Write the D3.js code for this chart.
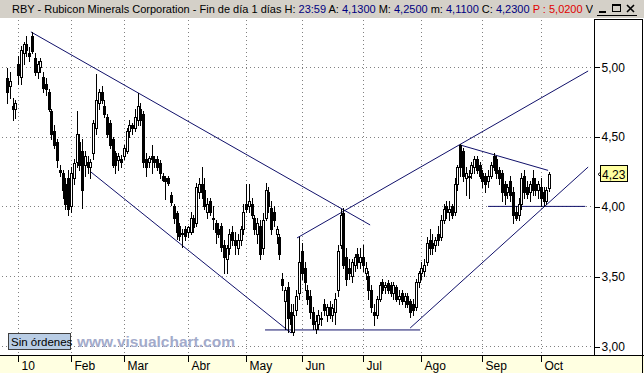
<!DOCTYPE html>
<html><head><meta charset="utf-8">
<script src="https://cdn.jsdelivr.net/npm/d3@7"></script>
<style>body{margin:0;background:#fff;overflow:hidden}svg{display:block}text{font-family:"Liberation Sans",Arial,sans-serif}</style>
</head><body><svg id="c" width="644" height="373"></svg>
<script>
// ---- data (Dec 28 2009 .. Oct 6 2010, daily) ----
const openV = [
4.92,4.86,4.72,4.70,5.02,4.93,5.10,5.16,5.10,5.22,
5.06,4.96,5.00,4.93,4.88,4.82,4.68,4.54,4.46,4.26,
4.24,4.16,4.20,4.00,4.20,4.32,4.46,4.40,4.30,4.32,
4.28,4.38,4.56,4.74,4.82,4.72,4.64,4.60,4.48,4.38,
4.33,4.34,4.36,4.40,4.54,4.58,4.56,4.62,4.70,4.66,
4.34,4.32,4.36,4.34,4.34,4.31,4.22,4.20,4.20,4.08,
4.00,3.95,3.86,3.81,3.84,3.82,3.82,3.92,3.88,4.10,
4.16,4.12,3.96,4.04,3.92,3.88,3.84,3.86,3.72,3.62,
3.70,3.82,3.76,3.70,3.76,3.84,4.02,4.00,4.02,3.92,
3.80,3.86,3.70,3.92,4.10,3.99,3.96,3.80,3.78,3.48,
3.32,3.42,3.24,3.10,3.26,3.38,3.68,3.56,3.40,3.36,
3.24,3.12,3.16,3.20,3.30,3.22,3.28,3.22,3.24,3.40,
3.72,3.95,3.64,3.56,3.50,3.58,3.66,3.60,3.64,3.52,
3.50,3.40,3.24,3.22,3.34,3.46,3.42,3.45,3.44,3.38,
3.42,3.34,3.38,3.32,3.36,3.32,3.30,3.28,3.46,3.52,
3.54,3.60,3.76,3.74,3.72,3.80,3.78,3.90,4.00,3.96,
4.00,3.96,4.16,4.44,4.40,4.20,4.22,4.24,4.28,4.34,
4.30,4.24,4.22,4.18,4.22,4.36,4.34,4.26,4.24,4.16,
4.10,4.18,4.10,3.96,3.94,4.02,4.22,4.14,4.10,4.20,
4.16,4.12,4.14,4.10,4.04,4.13];
const highV = [
4.99,4.96,4.78,4.76,5.08,5.15,5.18,5.22,5.14,5.25,
5.10,5.04,5.06,4.96,4.92,4.84,4.70,4.58,4.48,4.30,
4.26,4.20,4.26,4.28,4.34,4.68,4.52,4.48,4.40,4.36,
4.34,4.62,4.95,4.84,4.86,4.76,4.66,4.62,4.50,4.40,
4.38,4.37,4.44,4.56,4.62,4.60,4.70,4.81,4.74,4.68,
4.38,4.36,4.44,4.36,4.36,4.33,4.24,4.22,4.22,4.10,
4.02,3.97,3.88,3.84,3.86,3.86,3.96,3.94,4.17,4.20,
4.28,4.20,4.06,4.06,4.00,3.90,3.88,3.88,3.76,3.72,
3.84,3.86,3.82,3.80,3.86,4.02,4.16,4.16,4.06,3.94,
3.92,3.90,3.95,4.17,4.14,4.04,4.00,3.86,3.80,3.52,
3.42,3.46,3.30,3.30,3.40,3.78,3.74,3.60,3.44,3.40,
3.28,3.22,3.26,3.24,3.34,3.30,3.32,3.30,3.38,3.72,
3.98,3.99,3.70,3.62,3.62,3.66,3.70,3.70,3.72,3.60,
3.54,3.44,3.30,3.36,3.46,3.48,3.46,3.47,3.46,3.46,
3.44,3.40,3.40,3.38,3.38,3.34,3.34,3.48,3.54,3.60,
3.62,3.78,3.84,3.80,3.78,3.86,3.94,4.02,4.04,4.04,
4.02,4.20,4.30,4.45,4.42,4.28,4.26,4.32,4.36,4.36,
4.32,4.26,4.24,4.26,4.32,4.38,4.36,4.28,4.26,4.18,
4.16,4.22,4.14,4.00,4.06,4.24,4.26,4.18,4.18,4.26,
4.20,4.18,4.20,4.14,4.14,4.25];
const lowV = [
4.74,4.78,4.62,4.63,4.88,4.88,5.02,5.08,5.04,5.10,
4.94,4.92,4.96,4.82,4.80,4.68,4.48,4.42,4.28,4.22,
4.06,3.98,3.94,3.96,4.16,4.28,4.26,3.99,4.22,4.24,
4.20,4.34,4.52,4.70,4.74,4.64,4.50,4.42,4.28,4.24,
4.26,4.28,4.34,4.38,4.50,4.52,4.54,4.58,4.58,4.28,
4.22,4.28,4.24,4.28,4.26,4.20,4.18,4.05,4.15,4.01,
3.88,3.77,3.76,3.71,3.76,3.78,3.80,3.82,3.86,4.06,
4.06,3.98,3.92,3.94,3.84,3.74,3.78,3.68,3.52,3.52,
3.66,3.72,3.66,3.66,3.72,3.80,3.96,3.96,3.92,3.80,
3.74,3.62,3.66,3.90,3.96,3.80,3.86,3.74,3.62,3.40,
3.12,3.10,3.10,3.08,3.22,3.34,3.48,3.40,3.30,3.20,
3.12,3.09,3.12,3.15,3.22,3.18,3.20,3.18,3.16,3.36,
3.70,3.56,3.44,3.48,3.46,3.54,3.56,3.56,3.54,3.48,
3.34,3.24,3.15,3.20,3.32,3.38,3.38,3.38,3.36,3.34,
3.32,3.30,3.30,3.28,3.28,3.21,3.22,3.26,3.42,3.48,
3.50,3.58,3.66,3.66,3.68,3.72,3.76,3.88,3.92,3.90,
3.92,3.94,4.12,4.22,4.18,4.08,4.06,4.20,4.24,4.24,
4.20,4.14,4.10,4.14,4.20,4.26,4.20,4.16,4.04,4.02,
4.06,4.04,3.88,3.90,3.90,3.98,4.06,4.06,4.04,4.08,
4.08,4.06,4.00,4.00,4.02,4.11];
const closeV = [
4.82,4.90,4.70,4.74,4.94,5.12,5.16,5.12,5.08,5.11,
4.96,5.02,5.04,4.85,4.84,4.70,4.52,4.44,4.33,4.25,
4.12,4.02,3.98,4.24,4.31,4.52,4.30,4.12,4.36,4.28,
4.32,4.60,4.76,4.82,4.76,4.66,4.52,4.44,4.30,4.30,
4.36,4.32,4.42,4.54,4.58,4.56,4.64,4.72,4.62,4.32,
4.28,4.35,4.34,4.32,4.28,4.24,4.19,4.18,4.17,4.03,
3.92,3.82,3.79,3.80,3.79,3.85,3.92,3.85,4.14,4.16,
4.10,4.00,4.02,3.96,3.91,3.82,3.80,3.71,3.64,3.70,
3.80,3.76,3.72,3.76,3.84,3.96,3.98,4.04,3.94,3.84,
3.88,3.66,3.90,4.12,4.00,3.84,3.90,3.84,3.66,3.44,
3.40,3.20,3.16,3.22,3.36,3.60,3.52,3.46,3.34,3.24,
3.16,3.18,3.22,3.19,3.26,3.28,3.22,3.27,3.34,3.68,
3.94,3.58,3.48,3.52,3.60,3.64,3.60,3.64,3.58,3.56,
3.40,3.28,3.22,3.34,3.44,3.40,3.44,3.40,3.38,3.44,
3.34,3.36,3.32,3.36,3.30,3.24,3.26,3.46,3.52,3.56,
3.58,3.74,3.70,3.70,3.76,3.76,3.90,3.98,3.96,3.98,
3.94,4.16,4.28,4.28,4.22,4.24,4.21,4.30,4.34,4.26,
4.22,4.18,4.16,4.22,4.30,4.28,4.24,4.20,4.10,4.08,
4.14,4.08,3.94,3.92,4.02,4.20,4.10,4.09,4.16,4.12,
4.12,4.16,4.06,4.04,4.12,4.23];
const monthLabels = ["10","Feb","Mar","Abr","May","Jun","Jul","Ago","Sep","Oct"];
const monthStartIdx = [4,23,42,65,86,106,128,149,171,192];
const priceTicks = [3.0,3.5,4.0,4.5,5.0];
const lastPrice = 4.23;
// trend lines drawn by the user: [startDayIdx, startPrice, endDayIdx, endPrice]
const trendLines = [
  [8.6,5.25,130.6,3.867],
  [30.2,4.246,102.2,3.093],
  [92.8,3.115,148.6,3.115],
  [104.3,3.774,209,4.970],
  [145,3.129,209,4.282],
  [163,4.44,194.6,4.258],
  [173,4.0,208,4.0]
];
const titleParts = [
  ["RBY - Rubicon Minerals Corporation - Fin de día 1 días H: ","#000"],["23:59","#000080"],
  [" A: ","#000"],["4,1300","#000080"],[" M: ","#000"],["4,2500","#000080"],
  [" m: ","#000"],["4,1100","#000080"],[" C: ","#000"],["4,2300","#000080"],
  [" P : 5,0200","#e00000"],[" V: '","#000"]
];

// ---- layout ----
const W=644,H=373, plotR=594, plotT=18, plotB=355, frameR=642;
const svg=d3.select("#c");
const x=d3.scaleLinear().domain([0,195]).range([7,549.2]);
const y=d3.scaleLinear().domain([3,5]).range([346,66.8]);
const fmt=v=>d3.format(".2f")(v).replace(".",",");

svg.append("rect").attr("width",W).attr("height",H).attr("fill","#fff");
svg.append("rect").attr("x",0).attr("y",plotB).attr("width",W).attr("height",H-plotB).attr("fill","#ffffe1");

// grid
const grid=svg.append("g").attr("stroke","#808080").attr("stroke-dasharray","1,3").attr("shape-rendering","crispEdges");
priceTicks.forEach(p=>{
  const yy=Math.round(y(p))+0.5;
  grid.append("line").attr("x1",2).attr("x2",plotR).attr("y1",yy).attr("y2",yy);
});
monthStartIdx.forEach(i=>{
  const xx=Math.round(x(i))+0.5;
  grid.append("line").attr("x1",xx).attr("x2",xx).attr("y1",plotT+2).attr("y2",plotB);
});

svg.append("clipPath").attr("id","pc").append("rect").attr("x",0).attr("y",plotT).attr("width",plotR).attr("height",plotB-plotT);
const plot=svg.append("g").attr("clip-path","url(#pc)");

// trend lines
plot.append("g").selectAll("line").data(trendLines).join("line")
  .attr("x1",d=>x(d[0])).attr("y1",d=>y(d[1])).attr("x2",d=>x(d[2])).attr("y2",d=>y(d[3]))
  .attr("stroke","#10106a").attr("stroke-width",1);

// candles
const idx=d3.range(openV.length);
const cg=plot.append("g").attr("shape-rendering","crispEdges");
idx.forEach(i=>{
  const cx=Math.round(x(i));
  const o=openV[i],c=closeV[i],h=highV[i],l=lowV[i];
  cg.append("line").attr("x1",cx+0.5).attr("x2",cx+0.5)
    .attr("y1",Math.round(y(h))).attr("y2",Math.round(y(l))+1).attr("stroke","#000");
  const top=Math.round(y(Math.max(o,c))), bot=Math.round(y(Math.min(o,c)));
  if(c<o){
    cg.append("rect").attr("x",cx-1).attr("y",top).attr("width",3).attr("height",Math.max(1,bot-top+1)).attr("fill","#000");
  } else {
    cg.append("rect").attr("x",cx-0.5).attr("y",top+0.5).attr("width",2).attr("height",Math.max(1,bot-top))
      .attr("fill","#fff").attr("stroke","#000");
  }
});

// frame lines
const fr=svg.append("g").attr("stroke","#000").attr("shape-rendering","crispEdges");
fr.append("line").attr("x1",0).attr("x2",W).attr("y1",plotB+0.5).attr("y2",plotB+0.5);
fr.append("line").attr("x1",plotR+0.5).attr("x2",plotR+0.5).attr("y1",plotT+1).attr("y2",plotB);
fr.append("line").attr("x1",frameR+0.5).attr("x2",frameR+0.5).attr("y1",plotT+1).attr("y2",H);
fr.append("line").attr("x1",plotR).attr("x2",frameR+1).attr("y1",plotT+1.5).attr("y2",plotT+1.5);

// right axis
const ra=svg.append("g").attr("transform",`translate(${plotR+0.5},0.5)`)
  .call(d3.axisRight(y).tickValues(priceTicks).tickFormat(fmt).tickSize(5).tickPadding(2));
ra.select(".domain").remove();
ra.selectAll(".tick line").attr("stroke","#000").attr("shape-rendering","crispEdges");
ra.selectAll(".tick text").attr("font-size",12).attr("fill","#000").attr("font-family","Liberation Sans, Arial, sans-serif");

// bottom axis
const ba=svg.append("g").attr("transform",`translate(0.5,${plotB})`)
  .call(d3.axisBottom(x).tickValues(monthStartIdx).tickFormat((d,k)=>monthLabels[k]).tickSize(7));
ba.select(".domain").remove();
ba.selectAll(".tick").attr("transform",d=>`translate(${Math.round(x(d))},0)`);
ba.selectAll(".tick line").attr("stroke","#000").attr("shape-rendering","crispEdges");
ba.selectAll(".tick text").attr("text-anchor","start").attr("x",3).attr("y",6).attr("font-size",12)
  .attr("fill","#000").attr("font-family","Liberation Sans, Arial, sans-serif");

// last price tag
const ly=y(lastPrice);
svg.append("path").attr("d",`M${plotR+7},${ly-2.5} L${plotR+4},${ly} L${plotR+7},${ly+2.5}`).attr("fill","none").attr("stroke","#000");
svg.append("rect").attr("x",600.5).attr("y",Math.round(ly)-8.5).attr("width",27).attr("height",16)
  .attr("fill","#ffffa0").attr("stroke","#000");
svg.append("text").attr("x",602).attr("y",ly+4.5).attr("font-size",12).text(fmt(lastPrice));

// title bar
svg.append("rect").attr("width",W).attr("height",plotT).attr("fill","#d4d0c8");
svg.append("clipPath").attr("id","tc").append("rect").attr("x",0).attr("y",0).attr("width",593).attr("height",plotT);
const tt=svg.append("text").attr("x",12).attr("y",13).attr("font-size",11).attr("clip-path","url(#tc)");
titleParts.forEach(p=>tt.append("tspan").attr("fill",p[1]).text(p[0]));
const bx=svg.append("g").attr("stroke","#000").attr("fill","none").attr("shape-rendering","crispEdges");
bx.append("line").attr("x1",599).attr("x2",606).attr("y1",11.5).attr("y2",11.5).attr("stroke-width",2);
bx.append("rect").attr("x",612.5).attr("y",4.5).attr("width",8).attr("height",7).attr("stroke-width",1);
bx.append("line").attr("x1",612).attr("x2",621).attr("y1",5.5).attr("y2",5.5);
bx.append("path").attr("d","M627,5 L634,12 M634,5 L627,12").attr("stroke-width",1.6).attr("shape-rendering","auto");
bx.append("line").attr("x1",597).attr("x2",637).attr("y1",15.5).attr("y2",15.5);

// status box + watermark
svg.append("rect").attr("x",8.5).attr("y",333.5).attr("width",62).attr("height",16).attr("fill","#b9cde5").attr("stroke","#404040");
svg.append("text").attr("x",11).attr("y",345.5).attr("font-size",11.5).attr("fill","#000").text("Sin órdenes");
svg.append("text").attr("x",77).attr("y",347).attr("font-size",15.5).attr("font-weight","bold").attr("fill","#a3abcb").text("www.visualchart.com");
</script></body></html>
